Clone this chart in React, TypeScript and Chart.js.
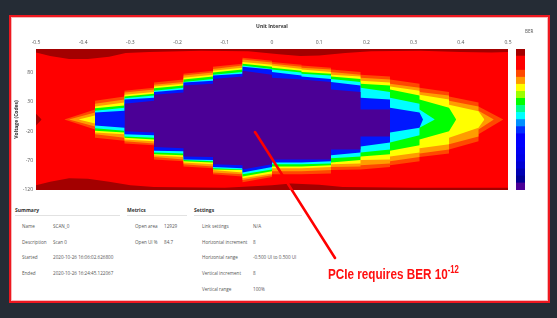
import React, { useEffect, useRef } from 'react';
import { Chart, registerables } from 'chart.js';

Chart.register(...registerables);

const FONT = "'Open Sans', 'Liberation Sans', sans-serif";

// axis ticks
const X_TICKS = [-0.5, -0.4, -0.3, -0.2, -0.1, 0, 0.1, 0.2, 0.3, 0.4, 0.5];
const Y_TICKS = [-120, -70, -20, 30, 80];

// scan column edges (UI)
const COLS = [-0.4375, -0.375, -0.3125, -0.25, -0.1875, -0.125, -0.0625, 0, 0.0625, 0.125, 0.1875, 0.25, 0.3125, 0.375, 0.4375, 0.5];

// contour boundaries (voltage codes) per column: [left edge, right edge]
const A_TOP = [[null, 17], [32, 39], [49, 54], [63, 68], [78, 83], [90, 95], [105, 100], [98, 93], [92, 88], [85, 81], [76, 73], [68, 61], [54, 47], [39, 29], [22, null]];
const A_BOT = [[null, -17], [-31, -36], [-41, -44], [-68, -71], [-80, -83], [-93, -97], [-107, -98], [-93, -93], [-93, -92], [-86, -85], [-85, -81], [-78, -71], [-64, -58], [-51, -37], [-25, null]];
const A_TIPS = [-0.44, 0.49];

const B_TOP = [[null, 12], [27, 34], [46, 51], [59, 64], [75, 80], [86, 92], [102, 97], [95, 90], [88, 85], [81, 76], [71, 68], [61, 54], [47, 41], [32, 22], [15, null]];
const B_BOT = [[null, -12], [-25, -31], [-37, -41], [-64, -68], [-76, -80], [-90, -93], [-103, -95], [-88, -88], [-88, -86], [-81, -80], [-78, -75], [-71, -64], [-58, -51], [-42, -29], [-17, null]];
const B_TIPS = [-0.43, 0.47];

const C_TOP = [[null, 7], [22, 29], [42, 47], [56, 61], [71, 76], [83, 88], [98, 93], [92, 86], [85, 81], [76, 73], [66, 63], [56, 49], [42, 34], [25, 14], null];
const C_BOT = [[null, -7], [-22, -25], [-34, -37], [-61, -64], [-73, -76], [-86, -90], [-100, -92], [-83, -83], [-83, -81], [-76, -75], [-69, -68], [-63, -56], [-49, -42], [-31, -14], null];
const C_TIPS = [-0.41, 0.45];

const D_TOP = [null, [19, 24], [39, 44], [53, 58], [68, 73], [80, 85], [95, 90], [88, 83], [81, 78], [73, 69], [61, 58], [51, 41], [34, 20], null, null];
const D_BOT = [null, [-19, -22], [-31, -34], [-59, -61], [-71, -73], [-85, -86], [-97, -88], [-80, -80], [-80, -78], [-73, -69], [-63, -59], [-53, -44], [-34, -20], null, null];
const D_TIPS = [null, 0.39];

const E_TOP = [null, [15, 20], [36, 41], [49, 54], [64, 69], [76, 81], [92, 86], [85, 80], [78, 75], [69, 64], [54, 47], [37, 27], [17, null], null, null];
const E_BOT = [null, [-15, -19], [-29, -31], [-56, -58], [-69, -71], [-83, -85], [-93, -85], [-76, -76], [-76, -75], [-66, -63], [-56, -51], [-39, -27], [-14, null], null, null];
const E_TIPS = [null, 0.345];

const F_TOP = [null, [12, 15], [34, 37], [47, 51], [63, 66], [75, 78], [90, 85], [81, 75], [73, 69], [64, 58], [37, 34], [20, 12], null, null, null];
const F_BOT = [null, [-10, -14], [-25, -27], [-53, -54], [-68, -69], [-81, -83], [-90, -81], [-73, -73], [-73, -71], [-61, -56], [-46, -39], [-22, -14], null, null, null];
const F_TIPS = [null, 0.32];

const H_TOP = [null, null, [27, 32], [42, 46], [58, 61], [69, 73], [83, 76], [71, 68], [68, 64], [51, 47], [17, 17], null, null, null, null];
const H_BOT = [null, null, [-20, -22], [-47, -49], [-63, -64], [-76, -78], [-85, -76], [-68, -68], [-68, -68], [-51, -51], [-29, -29], null, null, null, null];
const H_TIPS = [null, null];

const LEVEL_COLORS = ['#ff4800', '#ff9c00', '#ffff00', '#00ff00', '#00ffff', '#0018ff', '#4b0096'];
const BG_RED = '#ff0000';
const DARK_RED = '#a30000';

// dark red (lowest BER) edge regions
const DARK_TOP_X = [-0.5, -0.47, -0.43, -0.39, -0.345, -0.31, -0.26, -0.15, -0.05, 0.015, 0.06, 0.1, 0.155, 0.21, 0.315, 0.4, 0.465, 0.5];
const DARK_TOP_Y = [114, 108, 103, 103, 107, 113, 115, 117, 116, 111, 108, 109, 113, 116, 117, 115, 114, 115];
const DARK_BOT_X = [-0.5, -0.47, -0.43, -0.39, -0.345, -0.3, -0.25, -0.1, 0, 0.04, 0.1, 0.15, 0.3, 0.5];
const DARK_BOT_Y = [-112, -106, -100, -101, -106, -112, -115, -116, -112, -109, -111, -115, -116, -116];
const NOTCH_X = [-0.5, -0.488];
const NOTCH_TOP = [10, 0];
const NOTCH_BOT = [-10, 0];

// colour bar, top to bottom
const COLORBAR_COLORS = ['#a30000', '#ff0000', '#ff0000', '#ff4800', '#ff9a00', '#ffff00', '#9cff00', '#00ff00', '#00ff90', '#00ffff', '#0090ff', '#0030ff', '#0000ff', '#0000ff', '#0000f4', '#0000e8', '#0000d4', '#0000b4', '#000096', '#4b0096'];

// tables
const SUMMARY_LABELS = ['Name', 'Description', 'Started', 'Ended'];
const SUMMARY_VALUES = ['SCAN_0', 'Scan 0', '2020-10-26 16:06:02.626800', '2020-10-26 16:24:45.122067'];
const METRIC_LABELS = ['Open area', 'Open UI %'];
const METRIC_VALUES = ['12929', '84.7'];
const SETTING_LABELS = ['Link settings', 'Horizontal increment', 'Horizontal range', 'Vertical increment', 'Vertical range'];
const SETTING_VALUES = ['N/A', '8', '-0.500 UI to 0.500 UI', '8', '100%'];

const ROW_Y = [226, 241.5, 257, 273, 288.5];

function levelPoints(pairs: any[], tips: any[]) {
  const pts: { x: number; y: number }[] = [];
  if (tips[0] != null) pts.push({ x: tips[0], y: 0 });
  pairs.forEach((p, i) => {
    if (!p) return;
    if (p[0] != null) pts.push({ x: COLS[i], y: p[0] });
    if (p[1] != null) pts.push({ x: COLS[i + 1], y: p[1] });
  });
  if (tips[1] != null) pts.push({ x: tips[1], y: 0 });
  return pts;
}

const T = ({ x, y, s = 4.6, b = false, c = '#555', children }: any) => (
  <div
    style={{
      position: 'absolute', left: x, top: y, fontSize: s, lineHeight: 1, fontWeight: b ? 700 : 400,
      color: c, whiteSpace: 'nowrap', fontFamily: FONT, transform: 'translateY(-50%)',
    }}
  >
    {children}
  </div>
);

export default function App() {
  const mainRef = useRef<HTMLCanvasElement>(null);
  const barRef = useRef<HTMLCanvasElement>(null);

  useEffect(() => {
    const ds: any[] = [];
    ds.push({ data: [{ x: -0.5, y: 120 }, { x: 0.5, y: 120 }], fill: 'start', backgroundColor: BG_RED });
    ds.push({ data: DARK_TOP_X.map((x, i) => ({ x, y: DARK_TOP_Y[i] })), fill: 'end', backgroundColor: DARK_RED });
    ds.push({ data: DARK_BOT_X.map((x, i) => ({ x, y: DARK_BOT_Y[i] })), fill: 'start', backgroundColor: DARK_RED });
    const pair = (top: any[], bot: any[], color: string) => {
      const ti = ds.length;
      ds.push({ data: top, fill: ti + 1, backgroundColor: color });
      ds.push({ data: bot, fill: false, backgroundColor: color });
    };
    pair(NOTCH_X.map((x, i) => ({ x, y: NOTCH_TOP[i] })), NOTCH_X.map((x, i) => ({ x, y: NOTCH_BOT[i] })), DARK_RED);
    const levels = [
      [A_TOP, A_BOT, A_TIPS], [B_TOP, B_BOT, B_TIPS], [C_TOP, C_BOT, C_TIPS], [D_TOP, D_BOT, D_TIPS],
      [E_TOP, E_BOT, E_TIPS], [F_TOP, F_BOT, F_TIPS], [H_TOP, H_BOT, H_TIPS],
    ];
    levels.forEach((lv: any, k) => pair(levelPoints(lv[0], lv[2]), levelPoints(lv[1], lv[2]), LEVEL_COLORS[k]));
    ds.forEach((d, i) => {
      d.order = ds.length - i;
      d.borderWidth = 0;
      d.borderColor = 'transparent';
      d.pointRadius = 0;
      d.tension = 0;
    });

    const tickFont = { size: 5, family: FONT };
    const main = new Chart(mainRef.current as HTMLCanvasElement, {
      type: 'line',
      data: { datasets: ds },
      options: {
        responsive: false,
        animation: false,
        layout: { padding: { left: 0, top: 0, right: 9, bottom: 6 } },
        plugins: { legend: { display: false }, tooltip: { enabled: false } },
        scales: {
          x: {
            type: 'linear', position: 'top', min: -0.5, max: 0.5,
            afterBuildTicks: (s: any) => { s.ticks = X_TICKS.map((v) => ({ value: v })); },
            afterFit: (s: any) => { s.height = 31; s.paddingLeft = 0; s.paddingRight = 0; },
            grid: { display: false, drawTicks: false }, border: { display: false },
            ticks: { padding: 3, color: '#555', font: tickFont, maxRotation: 0, autoSkip: false, callback: (v: any) => (v === 0 ? '0' : String(v)) },
            title: { display: true, text: 'Unit Interval', color: '#333', font: { size: 5, weight: 'bold', family: FONT }, padding: { top: 6, bottom: 0 } },
          },
          y: {
            type: 'linear', position: 'left', min: -120, max: 120,
            afterBuildTicks: (s: any) => { s.ticks = Y_TICKS.map((v) => ({ value: v })); },
            afterFit: (s: any) => { s.width = 25; s.paddingTop = 0; s.paddingBottom = 0; },
            grid: { display: false, drawTicks: false }, border: { display: false },
            ticks: { padding: 3, color: '#555', font: tickFont, autoSkip: false },
            title: { display: true, text: 'Voltage (Codes)', color: '#333', font: { size: 5, weight: 'bold', family: FONT }, padding: { top: 3, bottom: 0 } },
          },
        },
      } as any,
    });

    const bar = new Chart(barRef.current as HTMLCanvasElement, {
      type: 'bar',
      data: {
        labels: ['BER'],
        datasets: COLORBAR_COLORS.slice().reverse().map((c) => ({
          data: [1], backgroundColor: c, borderWidth: 0, barPercentage: 1, categoryPercentage: 1,
        })),
      },
      options: {
        responsive: false,
        animation: false,
        layout: { padding: 0 },
        plugins: { legend: { display: false }, tooltip: { enabled: false } },
        scales: {
          x: { display: false, stacked: true },
          y: { display: false, stacked: true, min: 0, max: COLORBAR_COLORS.length },
        },
      } as any,
    });

    return () => { main.destroy(); bar.destroy(); };
  }, []);

  return (
    <div style={{ position: 'relative', width: 557, height: 318, background: '#252c35', overflow: 'hidden' }}>
      <style>{`body{margin:0;background:#252c35}`}</style>
      <div
        style={{
          position: 'absolute', left: 9, top: 15, width: 541, height: 288, boxSizing: 'border-box',
          background: '#fff', border: '2px solid #ee1820', boxShadow: 'inset 0 0 0 1px #f7b8b8',
        }}
      />
      <canvas ref={mainRef} width={506} height={178} style={{ position: 'absolute', left: 11, top: 18, width: 506, height: 178 }} />
      <canvas ref={barRef} width={9} height={141} style={{ position: 'absolute', left: 516, top: 49, width: 9, height: 141 }} />
      <T x={525} y={31}>BER</T>

      {/* Summary */}
      <T x={15} y={210} s={5} b c="#333">Summary</T>
      <div style={{ position: 'absolute', left: 15, top: 215, width: 105, height: 1, background: '#e2e2e2' }} />
      {SUMMARY_LABELS.map((l, i) => <T key={'sl' + i} x={22} y={ROW_Y[i]}>{l}</T>)}
      {SUMMARY_VALUES.map((v, i) => <T key={'sv' + i} x={53} y={ROW_Y[i]}>{v}</T>)}

      {/* Metrics */}
      <T x={127} y={210} s={5} b c="#333">Metrics</T>
      <div style={{ position: 'absolute', left: 127, top: 215, width: 60, height: 1, background: '#e2e2e2' }} />
      {METRIC_LABELS.map((l, i) => <T key={'ml' + i} x={135} y={ROW_Y[i]}>{l}</T>)}
      {METRIC_VALUES.map((v, i) => <T key={'mv' + i} x={164} y={ROW_Y[i]}>{v}</T>)}

      {/* Settings */}
      <T x={194} y={210} s={5} b c="#333">Settings</T>
      <div style={{ position: 'absolute', left: 194, top: 215, width: 108, height: 1, background: '#e2e2e2' }} />
      {SETTING_LABELS.map((l, i) => <T key={'tl' + i} x={202} y={ROW_Y[i]}>{l}</T>)}
      {SETTING_VALUES.map((v, i) => <T key={'tv' + i} x={253} y={ROW_Y[i]}>{v}</T>)}

      <svg width={557} height={318} style={{ position: 'absolute', left: 0, top: 0, pointerEvents: 'none' }}>
        <line x1={255} y1={132} x2={335} y2={258} stroke="#ff0000" strokeWidth={2.6} strokeLinecap="round" />
      </svg>
      <div
        style={{
          position: 'absolute', left: 328, top: 266, fontFamily: "'Liberation Sans', Arial, sans-serif", fontWeight: 700,
          fontSize: 15, lineHeight: '15px', color: '#ff1010', whiteSpace: 'nowrap', transform: 'scaleX(0.78)', transformOrigin: 'left top',
        }}
      >
        PCIe requires BER 10
        <span style={{ fontSize: 10, position: 'relative', top: -6, lineHeight: 0 }}>-12</span>
      </div>
    </div>
  );
}
